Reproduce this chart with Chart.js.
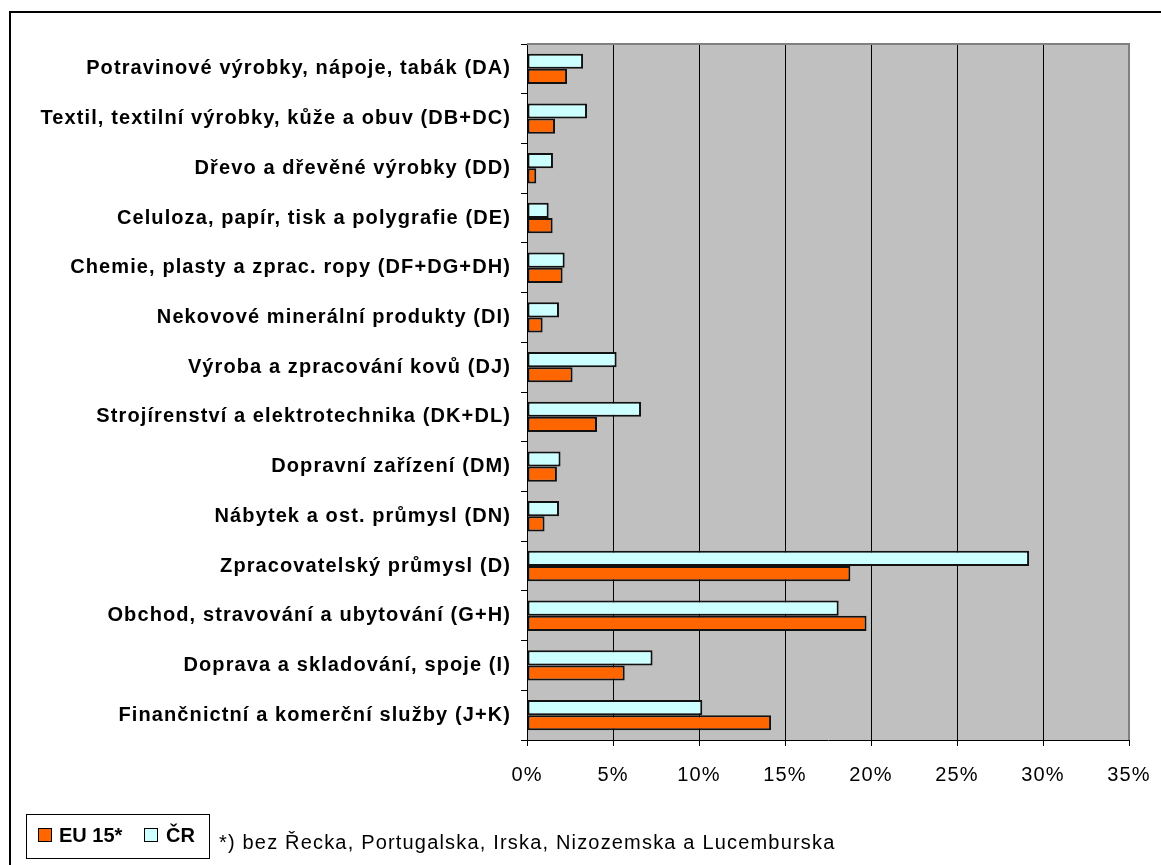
<!DOCTYPE html>
<html>
<head>
<meta charset="utf-8">
<script src="https://cdn.jsdelivr.net/npm/chart.js@4"></script>
<style>
html,body{margin:0;padding:0;background:#fff;}
#wrap{position:relative;width:1161px;height:865px;overflow:hidden;font-family:"Liberation Sans",Arial,sans-serif;}
#frame{position:absolute;left:9px;top:11px;width:1200px;height:900px;border-left:2px solid #000;border-top:2px solid #000;}
canvas{position:absolute;left:0;top:0;}
#legend{position:absolute;left:26px;top:814px;width:182px;height:43px;border:1px solid #000;background:#fff;font-weight:bold;font-size:20px;color:#000;}
.sw{position:absolute;top:13px;width:12px;height:12px;border:1px solid #000;}
.lt{position:absolute;top:9px;line-height:22px;}
#note{position:absolute;left:219px;top:830px;font-size:20px;line-height:24px;color:#000;letter-spacing:1.18px;white-space:nowrap;}
</style>
</head>
<body>
<div id="wrap">
<div id="frame"></div>
<canvas id="c" width="1161" height="865"></canvas>
<div id="legend">
  <div class="sw" style="left:11px;background:#FF6600;"></div>
  <div class="lt" style="left:32px;">EU 15*</div>
  <div class="sw" style="left:117px;background:#CCFFFF;"></div>
  <div class="lt" style="left:139px;">ČR</div>
</div>
<div id="note">*) bez Řecka, Portugalska, Irska, Nizozemska a Lucemburska</div>
</div>
<script>
const categories = [
  "Potravinové výrobky, nápoje, tabák (DA)",
  "Textil, textilní výrobky, kůže a obuv (DB+DC)",
  "Dřevo a dřevěné výrobky (DD)",
  "Celuloza, papír, tisk a polygrafie (DE)",
  "Chemie, plasty a zprac. ropy (DF+DG+DH)",
  "Nekovové minerální produkty (DI)",
  "Výroba a zpracování kovů (DJ)",
  "Strojírenství a elektrotechnika (DK+DL)",
  "Dopravní zařízení (DM)",
  "Nábytek a ost. průmysl (DN)",
  "Zpracovatelský průmysl (D)",
  "Obchod, stravování a ubytování (G+H)",
  "Doprava a skladování, spoje (I)",
  "Finančnictní a komerční služby (J+K)"
];
const crValues = [3.26, 3.49, 1.51, 1.26, 2.19, 1.86, 5.21, 6.63, 1.95, 1.86, 29.19, 18.12, 7.30, 10.19];
const euValues = [2.33, 1.63, 0.54, 1.49, 2.07, 0.91, 2.65, 4.07, 1.74, 1.02, 18.80, 19.74, 5.68, 14.19];
const xTicks = [0, 5, 10, 15, 20, 25, 30, 35];
const seriesNames = ["ČR", "EU 15*"];

const FONT = "'Liberation Sans', Arial, sans-serif";

const bgPlugin = {
  id: 'bg',
  beforeDraw(chart) {
    const {ctx, chartArea: a} = chart;
    ctx.save();
    ctx.fillStyle = '#C0C0C0';
    ctx.fillRect(a.left, a.top, a.right - a.left, a.bottom - a.top);
    ctx.restore();
    ctx.letterSpacing = '1.1px';
  },
  afterDraw(chart) {
    const {ctx, chartArea: a} = chart;
    ctx.save();
    ctx.strokeStyle = '#808080';
    ctx.lineWidth = 2;
    ctx.beginPath();
    ctx.moveTo(a.left, a.top);
    ctx.lineTo(a.right, a.top);
    ctx.lineTo(a.right, a.bottom);
    ctx.stroke();
    ctx.restore();
  }
};

new Chart(document.getElementById('c'), {
  type: 'bar',
  data: {
    labels: categories,
    datasets: [
      {label: seriesNames[0], data: crValues, backgroundColor: '#CCFFFF', borderColor: '#111', borderWidth: 2, borderSkipped: false},
      {label: seriesNames[1], data: euValues, backgroundColor: '#FF6600', borderColor: '#111', borderWidth: 2, borderSkipped: false}
    ]
  },
  options: {
    indexAxis: 'y',
    responsive: false,
    animation: false,
    devicePixelRatio: 1,
    categoryPercentage: 0.61,
    barPercentage: 1.0,
    layout: {padding: {top: 44, right: 32, left: 0, bottom: 0}},
    plugins: {legend: {display: false}, tooltip: {enabled: false}},
    scales: {
      x: {
        min: 0, max: 35,
        afterBuildTicks(scale) { scale.ticks = xTicks.map(v => ({value: v})); },
        afterFit(scale) { scale.height = 125; scale.paddingRight = 0; scale.paddingLeft = 0; },
        ticks: {
          callback: v => v + '%',
          color: '#000',
          font: {family: FONT, size: 20},
          padding: 17,
          maxRotation: 0
        },
        grid: {
          color: ctx => (ctx.tick && ctx.tick.value === 35) ? '#808080' : '#000',
          lineWidth: 1,
          tickColor: '#000',
          tickLength: 6
        },
        border: {color: '#000', width: 1}
      },
      y: {
        afterFit(scale) { scale.width = 527; scale.paddingTop = 0; scale.paddingBottom = 0; },
        ticks: {
          color: '#000',
          font: {family: FONT, size: 20, weight: 'bold'},
          padding: 10,
          autoSkip: false
        },
        grid: {
          drawOnChartArea: false,
          color: '#000',
          tickLength: 6,
          offset: true
        },
        border: {color: '#000', width: 1}
      }
    }
  },
  plugins: [bgPlugin]
});
</script>
</body>
</html>
